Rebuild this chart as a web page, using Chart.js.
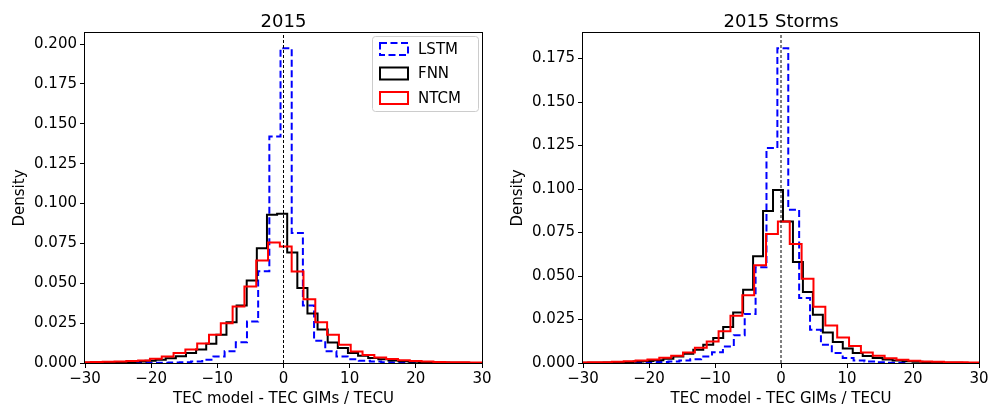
<!DOCTYPE html>
<html>
<head>
<meta charset="utf-8">
<title>TEC model - TEC GIMs histograms</title>
<script src="https://cdn.jsdelivr.net/npm/chart.js@4.4.1/dist/chart.umd.min.js"></script>
<style>
  html, body { margin: 0; padding: 0; background: #fff; }
  #wrap { position: relative; width: 998px; height: 408px; }
  canvas { position: absolute; top: 0; }
  #chartLeft { left: 0; }
  #chartRight { left: 499px; }
</style>
</head>
<body>
<div id="wrap">
  <canvas id="chartLeft" width="499" height="408"></canvas>
  <canvas id="chartRight" width="499" height="408"></canvas>
</div>
<script>
// Series names / colours
const seriesNames = ['LSTM', 'FNN', 'NTCM'];
const seriesColors = ['#0000ff', '#000000', '#ff0000'];

// Axis ticks
const xTicks = [-30, -20, -10, 0, 10, 20, 30];
const yStep = 0.025;
const yMax2015 = 0.2069;
const yMaxStorms = 0.1897;

// ---- 2015 : histogram bins (first edge, bin width, densities) ----
const lstmEdge2015 = -22.42, lstmWidth2015 = 1.69;
const lstmDensity2015 = [0.0001, 0.0001, 0.0002, 0.0003, 0.0005, 0.0009, 0.002, 0.0041, 0.0073, 0.013,
  0.026, 0.0576, 0.142, 0.1974, 0.0815, 0.036, 0.014, 0.0073, 0.0041, 0.0024, 0.0014, 0.0009,
  0.0005, 0.0003, 0.0002, 0.0001];

const fnnEdge2015 = -30.04, fnnWidth2015 = 1.53;
const fnnDensity2015 = [0.0002, 0.0003, 0.0004, 0.0005, 0.0007, 0.001, 0.0014, 0.002, 0.003, 0.0042,
  0.0063, 0.0085, 0.012, 0.0177, 0.0256, 0.036, 0.0518, 0.072, 0.093, 0.0935, 0.0693, 0.047, 0.031,
  0.021, 0.0129, 0.0094, 0.0062, 0.0045, 0.0032, 0.0023, 0.0016, 0.0011, 0.0008, 0.0005, 0.0004,
  0.0003, 0.0002, 0.0001];

const ntcmEdge2015 = -30.895, ntcmWidth2015 = 1.785;
const ntcmDensity2015 = [0.0005, 0.0006, 0.0008, 0.001, 0.0012, 0.0016, 0.0027, 0.0041, 0.0063, 0.0085,
  0.0123, 0.0177, 0.025, 0.0355, 0.048, 0.0643, 0.0756, 0.073, 0.0574, 0.040, 0.0255, 0.0177, 0.0114,
  0.0072, 0.005, 0.0035, 0.0025, 0.0018, 0.0012, 0.0009, 0.0007, 0.0005, 0.0004, 0.0003, 0.0003];

// ---- 2015 Storms ----
const lstmEdgeStorms = -23.65, lstmWidthStorms = 1.65;
const lstmDensityStorms = [0.0001, 0.0002, 0.0004, 0.0006, 0.0009, 0.0014, 0.0022, 0.0038, 0.0062, 0.0095,
  0.016, 0.0282, 0.055, 0.1236, 0.181, 0.0881, 0.0374, 0.0191, 0.0105, 0.0057, 0.0029, 0.0015, 0.0008,
  0.0004, 0.0002, 0.0001];

const fnnEdgeStorms = -29.9, fnnWidthStorms = 1.51;
const fnnDensityStorms = [0.0001, 0.0002, 0.0003, 0.0004, 0.0005, 0.0008, 0.0011, 0.0016, 0.0025, 0.0038,
  0.0053, 0.0076, 0.0105, 0.0144, 0.0207, 0.0291, 0.0421, 0.0613, 0.0874, 0.0994, 0.0814, 0.0581,
  0.0408, 0.0278, 0.0175, 0.012, 0.0083, 0.0057, 0.004, 0.0029, 0.002, 0.0014, 0.001, 0.0007, 0.0005,
  0.0003, 0.0002, 0.0001];

const ntcmEdgeStorms = -31.019, ntcmWidthStorms = 1.797;
const ntcmDensityStorms = [0.0003, 0.0004, 0.0005, 0.0007, 0.001, 0.0014, 0.002, 0.003, 0.0042, 0.006,
  0.0088, 0.0124, 0.0182, 0.0272, 0.039, 0.0562, 0.0742, 0.0814, 0.0684, 0.0485, 0.0323, 0.0216,
  0.0146, 0.0098, 0.006, 0.0041, 0.0028, 0.0019, 0.0013, 0.0009, 0.0007, 0.0005, 0.0004, 0.0003];

const FONT = 'DejaVu Sans';
const LABEL_SIZE = 15;
Chart.defaults.font.family = FONT;
Chart.defaults.color = '#000';

// turn bins into the outline of a step histogram
function stepPoints(edge0, width, dens) {
  const pts = [{ x: edge0, y: 0 }];
  dens.forEach((d, i) => {
    pts.push({ x: edge0 + i * width, y: d });
    pts.push({ x: edge0 + (i + 1) * width, y: d });
  });
  pts.push({ x: edge0 + dens.length * width, y: 0 });
  return pts;
}

function histDataset(idx, edge0, width, dens) {
  return {
    label: seriesNames[idx],
    data: stepPoints(edge0, width, dens),
    borderColor: seriesColors[idx],
    borderWidth: 2,
    borderDash: idx === 0 ? [7, 3.5] : [],
    pointRadius: 0,
    showLine: true,
    fill: false,
    tension: 0,
    order: 3 - idx
  };
}

// Title + frame plugin
const framePlugin = {
  id: 'frame',
  afterDraw(chart, args, opts) {
    const ctx = chart.ctx;
    const a = chart.chartArea;
    ctx.save();
    ctx.strokeStyle = '#000';
    ctx.lineWidth = 1;
    ctx.setLineDash([]);
    ctx.strokeRect(Math.round(a.left) - 0.5, Math.round(a.top) - 0.5,
      Math.round(a.right - a.left) + 1, Math.round(a.bottom - a.top) + 1);
    ctx.fillStyle = '#000';
    ctx.font = '18px ' + FONT;
    ctx.textAlign = 'center';
    ctx.textBaseline = 'alphabetic';
    ctx.fillText(opts.text, (a.left + a.right) / 2, 26.5);
    ctx.restore();
  }
};

// Legend box in the upper right corner
const boxLegendPlugin = {
  id: 'boxLegend',
  afterDraw(chart, args, opts) {
    if (!opts.show) return;
    const ctx = chart.ctx;
    const a = chart.chartArea;
    const x0 = a.right - 110, y0 = a.top + 3, w = 106, h = 75;
    ctx.save();
    ctx.fillStyle = 'rgba(255,255,255,0.8)';
    ctx.strokeStyle = '#cccccc';
    ctx.lineWidth = 1;
    ctx.beginPath();
    ctx.roundRect(x0 + 0.5, y0 + 0.5, w, h, 3);
    ctx.fill();
    ctx.stroke();
    ctx.font = LABEL_SIZE + 'px ' + FONT;
    ctx.textBaseline = 'middle';
    ctx.textAlign = 'left';
    seriesNames.forEach((name, i) => {
      const cy = y0 + 13 + i * 24.5;
      ctx.strokeStyle = seriesColors[i];
      ctx.lineWidth = 2;
      ctx.setLineDash(i === 0 ? [7, 3.5] : []);
      ctx.strokeRect(x0 + 8, cy - 6, 28, 12);
      ctx.fillStyle = '#000';
      ctx.fillText(name, x0 + 46, cy + 1);
    });
    ctx.restore();
  }
};

function makeChart(canvasId, title, yMax, yAxisWidth, padRight, yTitlePad, datasets, showLegend) {
  const zeroLine = {
    label: 'zero',
    data: [{ x: 0, y: 0 }, { x: 0, y: yMax }],
    borderColor: '#000',
    borderWidth: 1,
    borderDash: [3, 2],
    pointRadius: 0,
    showLine: true,
    order: 0
  };
  return new Chart(document.getElementById(canvasId), {
    type: 'scatter',
    data: { datasets: datasets.concat([zeroLine]) },
    plugins: [framePlugin, boxLegendPlugin],
    options: {
      responsive: false,
      devicePixelRatio: 1,
      animation: false,
      layout: { padding: { top: 33, right: padRight, left: 0, bottom: 0 } },
      plugins: {
        legend: { display: false },
        tooltip: { enabled: false },
        frame: { text: title },
        boxLegend: { show: showLegend }
      },
      scales: {
        x: {
          type: 'linear',
          min: xTicks[0],
          max: xTicks[xTicks.length - 1],
          afterBuildTicks: s => { s.ticks = xTicks.map(v => ({ value: v })); },
          afterFit: s => { s.height = 45; },
          grid: { drawOnChartArea: false, drawTicks: true, tickLength: 5, color: '#000' },
          border: { display: false },
          ticks: {
            font: { size: LABEL_SIZE },
            padding: 2,
            maxRotation: 0,
            callback: v => String(v).replace('-', '\u2212')
          },
          title: {
            display: true,
            text: 'TEC model - TEC GIMs / TECU',
            font: { size: LABEL_SIZE },
            padding: { top: 0, bottom: 0 }
          }
        },
        y: {
          type: 'linear',
          min: 0,
          max: yMax,
          afterFit: s => { s.width = yAxisWidth; },
          grid: { drawOnChartArea: false, drawTicks: true, tickLength: 5, color: '#000' },
          border: { display: false },
          ticks: {
            stepSize: yStep,
            includeBounds: false,
            font: { size: LABEL_SIZE },
            padding: 3,
            callback: v => v.toFixed(3)
          },
          title: {
            display: true,
            text: 'Density',
            font: { size: LABEL_SIZE },
            padding: { top: yTitlePad, bottom: 0 }
          }
        }
      }
    }
  });
}

makeChart('chartLeft', '2015', yMax2015, 85, 17, 11, [
  histDataset(0, lstmEdge2015, lstmWidth2015, lstmDensity2015),
  histDataset(1, fnnEdge2015, fnnWidth2015, fnnDensity2015),
  histDataset(2, ntcmEdge2015, ntcmWidth2015, ntcmDensity2015)
], true);

makeChart('chartRight', '2015 Storms', yMaxStorms, 84, 19, 10, [
  histDataset(0, lstmEdgeStorms, lstmWidthStorms, lstmDensityStorms),
  histDataset(1, fnnEdgeStorms, fnnWidthStorms, fnnDensityStorms),
  histDataset(2, ntcmEdgeStorms, ntcmWidthStorms, ntcmDensityStorms)
], false);
</script>
</body>
</html>
